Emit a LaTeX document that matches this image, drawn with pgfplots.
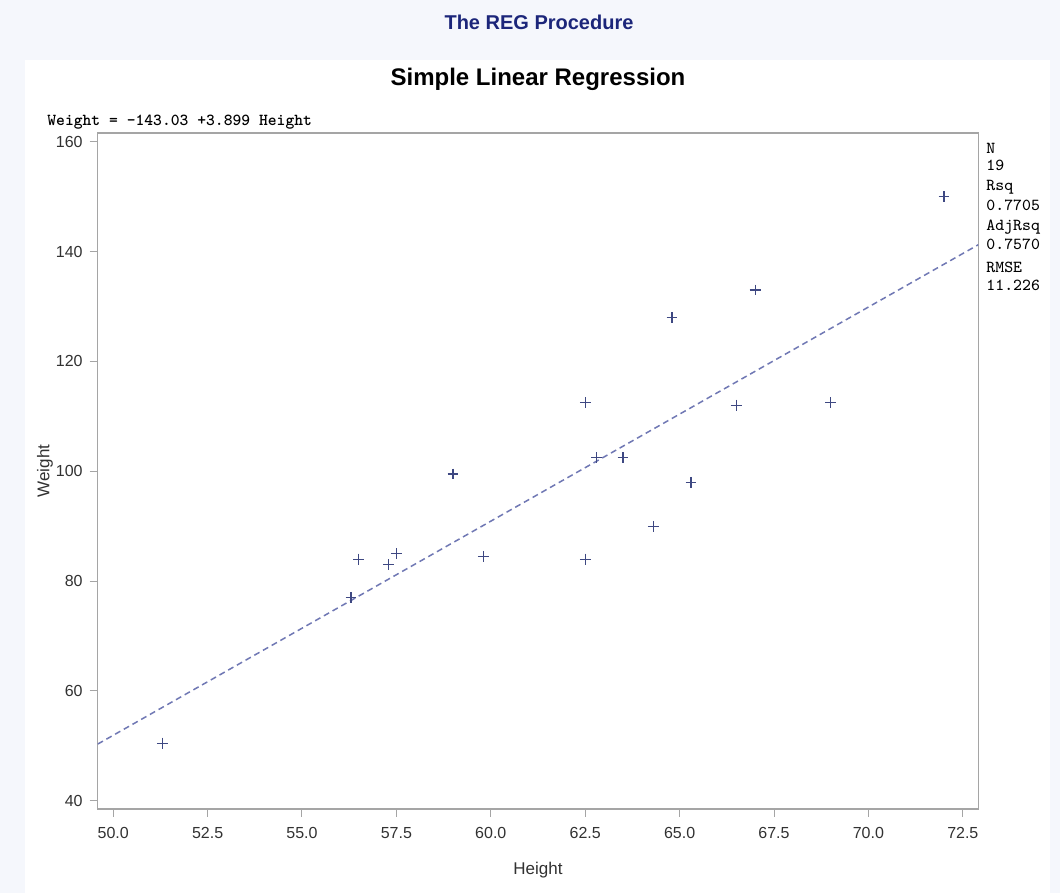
\documentclass[border=0pt]{standalone}
\usepackage{fontspec}
\setmainfont{Liberation Sans}
\usepackage{pgfplots}
\pgfplotsset{compat=1.18}
\definecolor{bgc}{RGB}{245,247,252}
\definecolor{navy}{RGB}{28,38,122}
\definecolor{markc}{RGB}{62,72,130}
\definecolor{linec}{RGB}{112,120,180}
\definecolor{framec}{RGB}{165,165,165}
\definecolor{textc}{RGB}{50,50,50}
\begin{document}
\begin{tikzpicture}
\useasboundingbox (-48.85pt,-42pt) rectangle (481.15pt,404.5pt);
\fill[bgc] (-48.85pt,-42pt) rectangle (481.15pt,404.5pt);
\fill[white] (-36.35pt,-42pt) rectangle (476.15pt,374.5pt);
\begin{axis}[
  scale only axis,
  width=440.3pt, height=338pt,
  xmin=49.59, xmax=72.91,
  ymin=38.5, ymax=161.6,
  xtick={50,52.5,55,57.5,60,62.5,65,67.5,70,72.5},
  ytick={40,60,80,100,120,140,160},
  /pgf/number format/assume math mode=true,
  tick label style={font=\fontsize{8}{9.6}\selectfont, text=textc},
  xticklabel style={yshift=-1.5pt, /pgf/number format/.cd,fixed,fixed zerofill,precision=1},
  xtick pos=bottom, ytick pos=left,
  tick align=outside,
  major tick length=4pt,
  every tick/.style={framec, line width=0.5pt},
  axis line style={framec, line width=0.7pt},
  xlabel={Height}, ylabel={Weight},
  label style={font=\fontsize{8.5}{10}\selectfont, text=textc},
  xlabel style={at={(axis description cs:0.5,-0.0902)}, anchor=center},
  ylabel style={at={(axis description cs:-0.0598,0.5)}, anchor=center},
  clip=true,
]
\addplot[linec, line width=0.75pt, dash pattern=on 3pt off 2pt] coordinates {(49.59,50.32) (72.91,141.25)};
\addplot[only marks, mark=+, mark size=2.7pt, markc, mark options={line width=0.6pt}] coordinates {
(69.0,112.5) (56.5,84.0) (65.3,98.0) (62.8,102.5) (63.5,102.5)
(57.3,83.0) (59.8,84.5) (62.5,112.5) (62.5,84.0) (59.0,99.5)
(51.3,50.5) (64.3,90.0) (56.3,77.0) (66.5,112.0) (72.0,150.0)
(64.8,128.0) (67.0,133.0) (57.5,85.0) (66.5,112.0)
};
\end{axis}
\node[font=\fontsize{10}{12}\selectfont\bfseries, text=navy] at (220.65pt,393.5pt) {The REG Procedure};
\node[font=\fontsize{12}{14}\selectfont\bfseries, text=black] at (220.15pt,365pt) {Simple Linear Regression};
\node[font=\fontsize{8.4}{10}\selectfont\ttfamily\bfseries, anchor=west, inner sep=0pt, text=black] at (-25.35pt,343.5pt) {Weight = -143.03 +3.899 Height};
\begin{scope}[every node/.style={font=\fontsize{8.4}{10}\selectfont\ttfamily, anchor=west, inner sep=0pt, text=black}]
\node at (444.15pt,330.5pt) {N};
\node at (444.15pt,322pt) {19};
\node at (444.15pt,311pt) {Rsq};
\node at (444.15pt,302pt) {0.7705};
\node at (444.15pt,291pt) {AdjRsq};
\node at (444.15pt,282.5pt) {0.7570};
\node at (444.15pt,271pt) {RMSE};
\node at (444.15pt,262pt) {11.226};
\end{scope}
\end{tikzpicture}
\end{document}
